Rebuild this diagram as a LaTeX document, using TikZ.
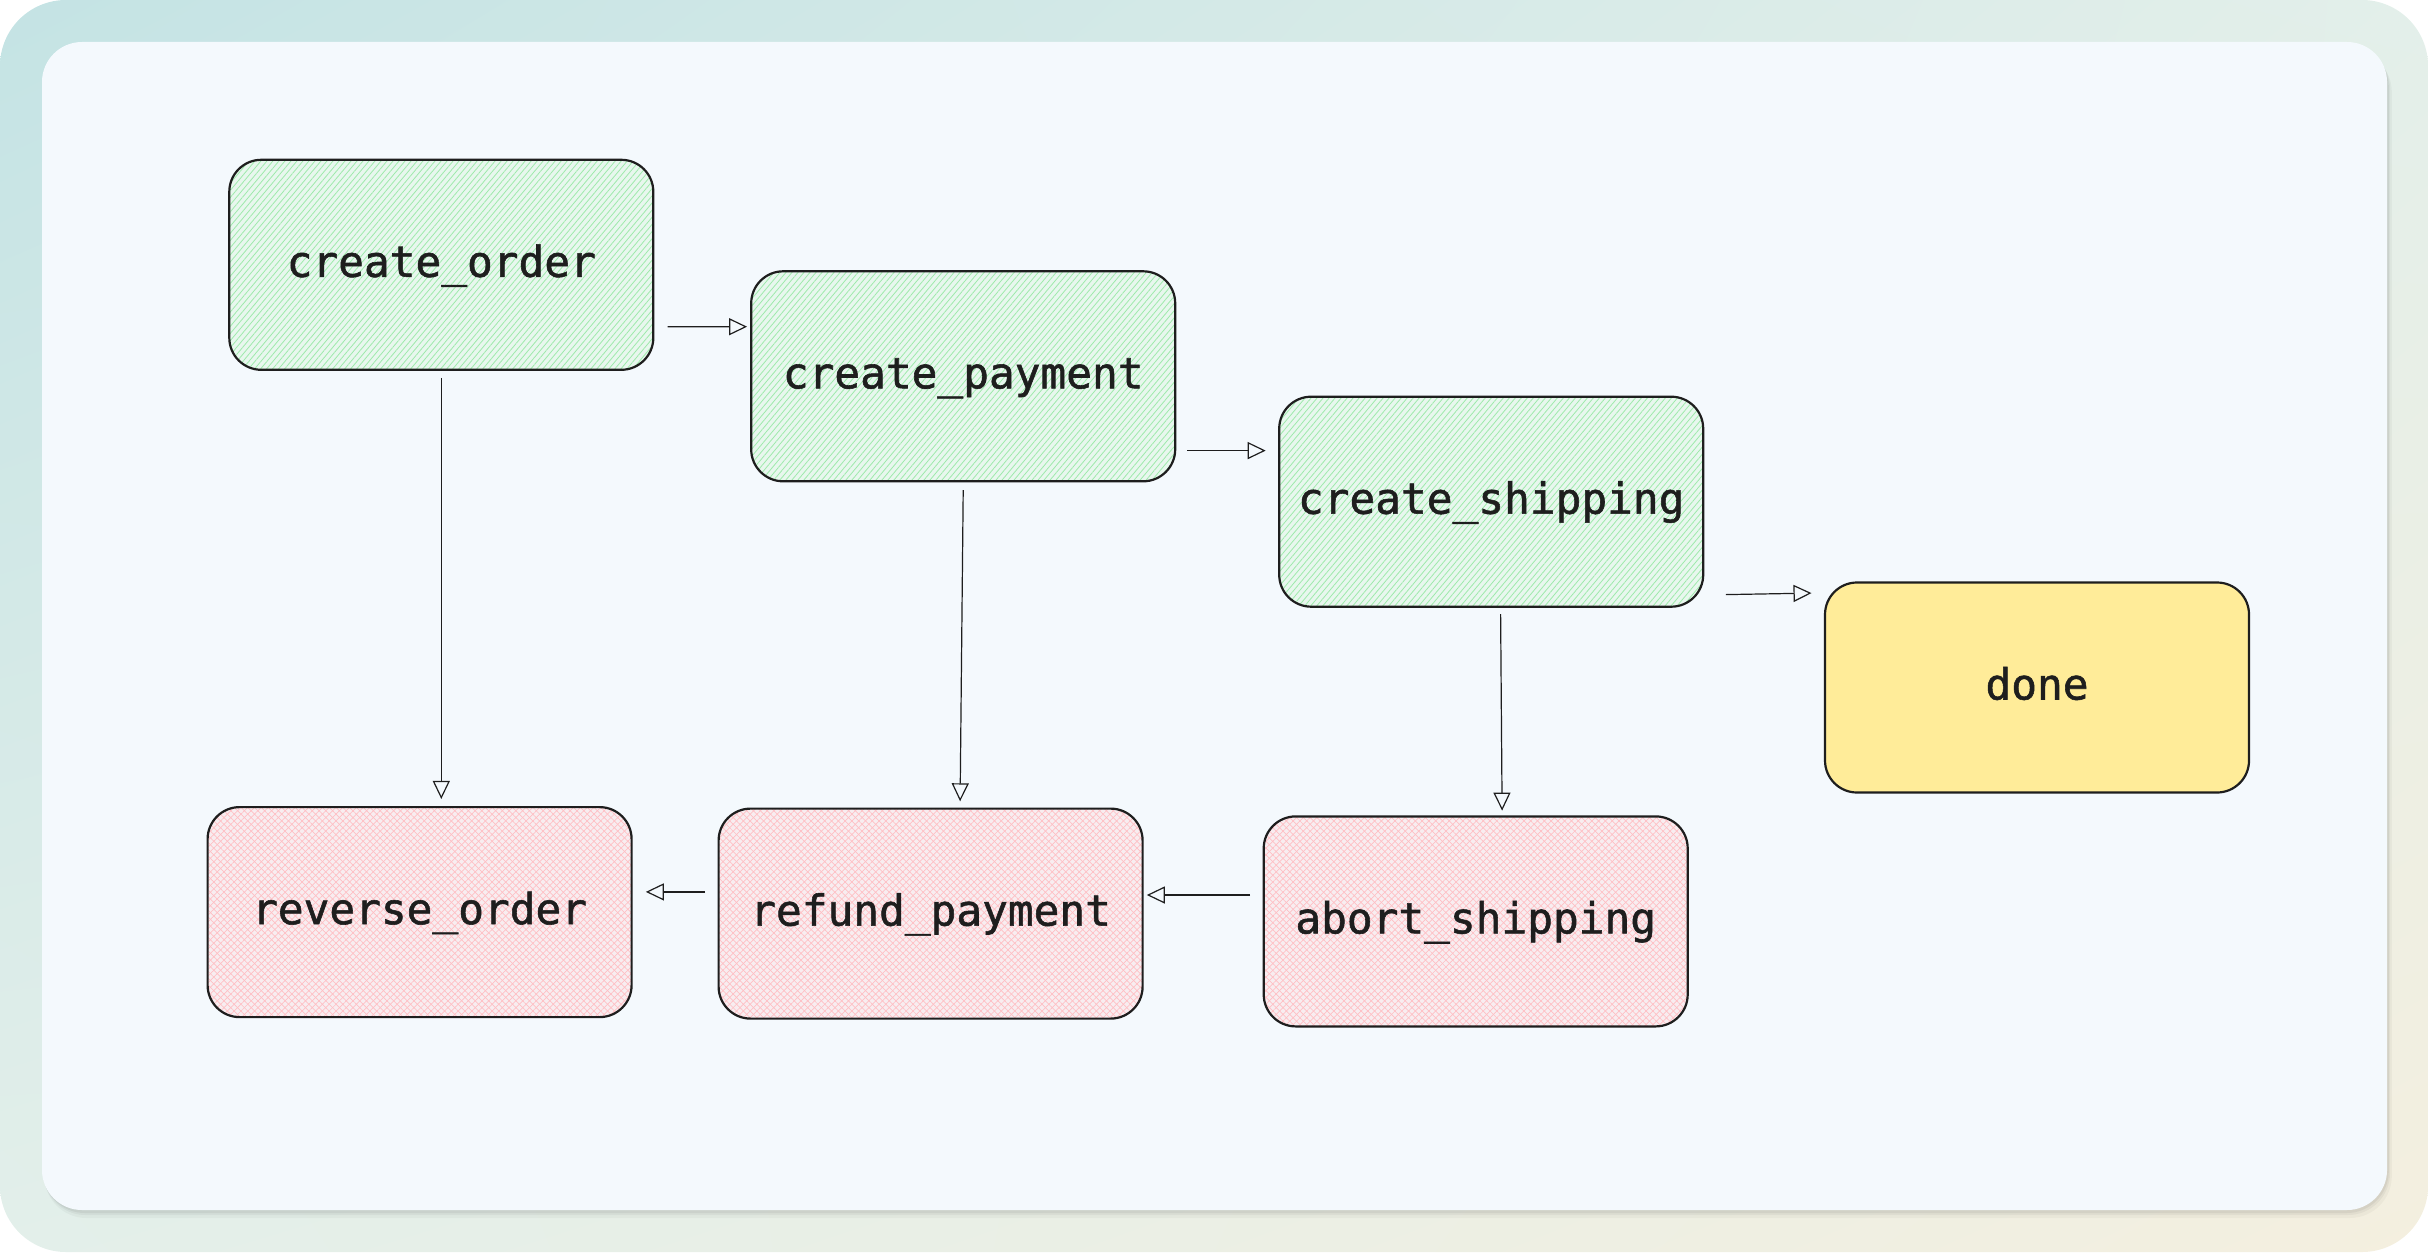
\documentclass[tikz,border=0pt]{standalone}
\usepackage{fontspec}
\newfontfamily\boxfont{DejaVu Sans Mono}[FakeBold=1.3]
\usetikzlibrary{arrows.meta,patterns.meta,shadings}
\definecolor{bgA}{HTML}{C4E3E4}
\definecolor{bgB}{HTML}{E3EFEA}
\definecolor{bgC}{HTML}{F4EFDF}
\definecolor{card}{HTML}{F4F9FD}
\definecolor{ink}{HTML}{1E1E1E}
\definecolor{gbase}{HTML}{E8F7EE}
\definecolor{gline}{HTML}{9EEAAB}
\definecolor{rbase}{HTML}{F8EDF0}
\definecolor{rline}{HTML}{FFBFC4}
\definecolor{yfill}{HTML}{FFEC99}
\begin{document}
\begin{tikzpicture}[x=0.5pt,y=-0.5pt,
  stepbox/.style={draw=ink, line width=1.1pt, rounded corners=16pt,
    minimum width=212pt, minimum height=105pt, inner sep=0pt,
    text height=12pt, text depth=0pt,
    font=\boxfont\fontsize{21.4}{25}\selectfont, text=ink},
  okbox/.style={stepbox, preaction={fill=gbase},
    pattern={Lines[angle=50,distance=2.3pt,line width=0.4pt]}, pattern color=gline},
  failbox/.style={stepbox, preaction={fill=rbase},
    preaction={pattern={Lines[angle=45,distance=2.4pt,line width=0.35pt]}, pattern color=rline},
    pattern={Lines[angle=-45,distance=2.4pt,line width=0.35pt]}, pattern color=rline},
  donebox/.style={stepbox, fill=yfill},
  arr/.style={draw=ink, line width=0.6pt, -{Triangle[open, length=9pt, width=8.5pt, line width=0.6pt]}}
]
\useasboundingbox (0,0) rectangle (2428,1252);
\shade[upper left=bgA, upper right=bgB, lower left=bgB, lower right=bgC, rounded corners=33pt]
  (0,0) rectangle (2428,1252);
\foreach \i/\o in {8/0.03,5/0.04,3/0.05}{
  \fill[black, opacity=\o, rounded corners=21pt] (42+0.3*\i,42+\i) rectangle (2387+0.6*\i,1210+\i);
}
\fill[card, rounded corners=20pt] (42,42) rectangle (2387,1210);

\node[okbox] (co) at (441.3,264.8) {create\_order};
\node[okbox] (cp) at (963.2,376.3) {create\_payment};
\node[okbox] (cs) at (1491.2,501.7) {create\_shipping};
\node[donebox] (dn) at (2037.0,687.5) {done};
\node[failbox] (ro) at (419.6,912.1) {reverse\_order};
\node[failbox] (rp) at (930.6,913.6) {refund\_payment};
\node[failbox] (as) at (1475.7,921.4) {abort\_shipping};

\draw[arr] ([shift={(14,62)}]co.east) -- ([shift={(-3,-49.6)}]cp.west);
\draw[arr] ([shift={(11,74.3)}]cp.east) -- ([shift={(-12.4,-51.1)}]cs.west);
\draw[arr] ([shift={(21.6,92.9)}]cs.east) -- ([shift={(-12.4,-94.4)}]dn.west);
\draw[arr] ([shift={(0,7.7)}]co.south) -- ([shift={(21.7,-7.8)}]ro.north);
\draw[arr] ([shift={(0,7.7)}]cp.south) -- ([shift={(29.5,-6.2)}]rp.north);
\draw[arr] ([shift={(9.4,6.2)}]cs.south) -- ([shift={(26.4,-4.7)}]as.north);
\draw[arr] ([shift={(-12.4,-26.4)}]as.west) -- ([shift={(3.1,-18.6)}]rp.east);
\draw[arr] ([shift={(-12.4,-21.7)}]rp.west) -- ([shift={(13.9,-20.2)}]ro.east);
\end{tikzpicture}
\end{document}
